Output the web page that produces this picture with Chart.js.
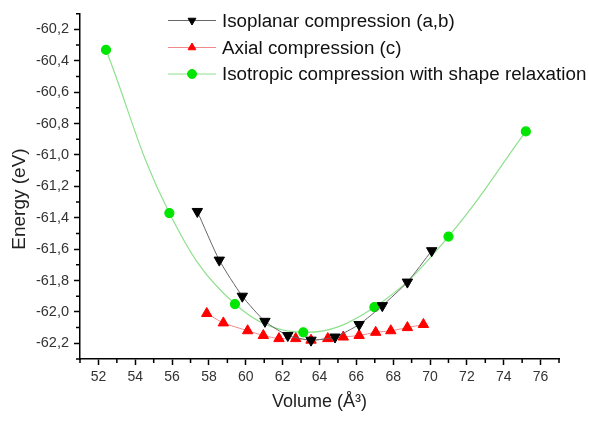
<!DOCTYPE html>
<html>
<head>
<meta charset="utf-8">
<script src="https://cdn.jsdelivr.net/npm/chart.js@4.4.0/dist/chart.umd.min.js"></script>
<style>
html, body { margin: 0; padding: 0; background: #fff; }
#wrap { width: 589px; height: 422px; position: relative; }
</style>
</head>
<body>
<div id="wrap"><canvas id="graficoEnergia"></canvas></div>
<script>
// Isoplanar compression (a,b)
const isoplanarVol = [57.37, 58.56, 59.81, 61.04, 62.28, 63.54, 64.84, 66.15, 67.41, 68.77, 70.09];
const isoplanarE   = [-61.36, -61.67, -61.90, -62.06, -62.15, -62.18, -62.16, -62.08, -61.96, -61.81, -61.61];

// Axial compression (c)
const axialVol = [57.88, 58.78, 60.10, 60.95, 61.80, 62.71, 63.54, 64.45, 65.29, 66.15, 67.05, 67.87, 68.77, 69.64];
const axialE   = [-62.01, -62.07, -62.12, -62.15, -62.17, -62.17, -62.18, -62.17, -62.16, -62.15, -62.13, -62.12, -62.10, -62.08];

// Isotropic compression with shape relaxation
const isotropicVol = [52.41, 55.85, 59.41, 63.12, 66.98, 71.00, 75.20];
const isotropicE   = [-60.33, -61.37, -61.95, -62.13, -61.97, -61.52, -60.85];

// eixos
const xTicks = [52, 54, 56, 58, 60, 62, 64, 66, 68, 70, 72, 74, 76];
const xMinorTicks = [51, 53, 55, 57, 59, 61, 63, 65, 67, 69, 71, 73, 75, 77];
const yTicks = [-62.2, -62.0, -61.8, -61.6, -61.4, -61.2, -61.0, -60.8, -60.6, -60.4, -60.2];
const yMinorTicks = [-62.3, -62.1, -61.9, -61.7, -61.5, -61.3, -61.1, -60.9, -60.7, -60.5, -60.3, -60.1];

function pares(xs, ys) {
    return xs.map((x, i) => ({ x: x, y: ys[i] }));
}

Chart.defaults.font.family = "'Liberation Sans', Arial, sans-serif";

// marcas menores nos eixos
const minorTicksPlugin = {
    id: 'minorTicks',
    afterDraw(chart) {
        const ctx = chart.ctx;
        const x = chart.scales.x, y = chart.scales.y;
        ctx.save();
        ctx.strokeStyle = '#000';
        ctx.lineWidth = 1.5;
        ctx.beginPath();
        xMinorTicks.forEach(v => {
            const px = x.getPixelForValue(v);
            ctx.moveTo(px, x.top);
            ctx.lineTo(px, x.top + 4);
        });
        yMinorTicks.forEach(v => {
            const py = y.getPixelForValue(v);
            ctx.moveTo(y.right, py);
            ctx.lineTo(y.right - 4, py);
        });
        ctx.stroke();
        ctx.restore();
    }
};

// título do eixo y (um pouco abaixo do centro, como no original)
const tituloYPlugin = {
    id: 'tituloY',
    afterDraw(chart) {
        const ctx = chart.ctx;
        ctx.save();
        ctx.translate(20, 199);
        ctx.rotate(-Math.PI / 2);
        ctx.fillStyle = '#222';
        ctx.font = "19px 'Liberation Sans', Arial, sans-serif";
        ctx.textAlign = 'center';
        ctx.textBaseline = 'middle';
        ctx.fillText('Energy (eV)', 0, 0);
        ctx.restore();
    }
};

// legenda desenhada dentro do gráfico
const legendaPlugin = {
    id: 'legendaInterna',
    afterDraw(chart) {
        const ctx = chart.ctx;
        const rows = [20.5, 47.5, 74];
        ctx.save();
        chart.data.datasets.forEach((ds, i) => {
            const yy = rows[i];
            ctx.strokeStyle = ds.borderColor;
            ctx.lineWidth = 1;
            ctx.beginPath();
            ctx.moveTo(168, yy);
            ctx.lineTo(216, yy);
            ctx.stroke();
            ctx.fillStyle = ds.pointBackgroundColor;
            ctx.strokeStyle = ds.pointBackgroundColor;
            Chart.helpers.drawPoint(ctx, {
                pointStyle: ds.pointStyle,
                rotation: ds.pointRotation || 0,
                radius: 4.5,
                borderWidth: 1
            }, 192, yy);
            ctx.fillStyle = '#111';
            ctx.font = "18.8px 'Liberation Sans', Arial, sans-serif";
            ctx.textBaseline = 'middle';
            ctx.textAlign = 'left';
            ctx.fillText(ds.label, 222, yy + 1);
        });
        ctx.restore();
    }
};

function inicializarGrafico() {
    const ctx = document.getElementById('graficoEnergia').getContext('2d');
    new Chart(ctx, {
        type: 'line',
        data: {
            datasets: [
                {
                    label: 'Isoplanar compression (a,b)',
                    data: pares(isoplanarVol, isoplanarE),
                    borderColor: '#666',
                    borderWidth: 1,
                    pointStyle: 'triangle',
                    pointRotation: 180,
                    pointRadius: 6,
                    pointBackgroundColor: '#000',
                    pointBorderColor: '#000',
                    tension: 0.2
                },
                {
                    label: 'Axial compression (c)',
                    data: pares(axialVol, axialE),
                    borderColor: '#f08a8a',
                    borderWidth: 1,
                    pointStyle: 'triangle',
                    pointRadius: 6,
                    pointBackgroundColor: '#ff0000',
                    pointBorderColor: '#ff0000',
                    tension: 0.2
                },
                {
                    label: 'Isotropic compression with shape relaxation',
                    data: pares(isotropicVol, isotropicE),
                    borderColor: '#8fe08f',
                    borderWidth: 1.2,
                    pointStyle: 'circle',
                    pointRadius: 4.5,
                    pointBackgroundColor: '#00e600',
                    pointBorderColor: '#00e600',
                    tension: 0.4
                }
            ]
        },
        options: {
            responsive: true,
            maintainAspectRatio: false,
            animation: false,
            layout: { padding: { top: 13, right: 30, left: 0, bottom: 0 } },
            plugins: {
                legend: { display: false },
                tooltip: { enabled: false }
            },
            scales: {
                x: {
                    type: 'linear',
                    min: 51,
                    max: 77,
                    afterBuildTicks: s => { s.ticks = xTicks.map(v => ({ value: v })); },
                    afterFit: s => { s.height = 63; },
                    grid: { drawOnChartArea: false, tickLength: 6, tickWidth: 1.5, tickColor: '#000' },
                    border: { color: '#000', width: 1.5 },
                    ticks: { color: '#333', font: { size: 14 }, padding: 4, maxRotation: 0, autoSkip: false },
                    title: { display: true, text: 'Volume (Å³)', color: '#222', font: { size: 18 }, padding: { top: 0, bottom: 9 } }
                },
                y: {
                    type: 'linear',
                    min: -62.3,
                    max: -60.1,
                    afterBuildTicks: s => { s.ticks = yTicks.map(v => ({ value: v })); },
                    afterFit: s => { s.width = 80; },
                    grid: { drawOnChartArea: false, tickLength: 6, tickWidth: 1.5, tickColor: '#000' },
                    border: { color: '#000', width: 1.5 },
                    ticks: {
                        color: '#333',
                        font: { size: 14.5 },
                        padding: 5,
                        autoSkip: false,
                        callback: v => v.toFixed(1).replace('.', ',')
                    },
                    title: { display: false }
                }
            }
        },
        plugins: [minorTicksPlugin, tituloYPlugin, legendaPlugin]
    });
}

window.onload = inicializarGrafico;
</script>
</body>
</html>
